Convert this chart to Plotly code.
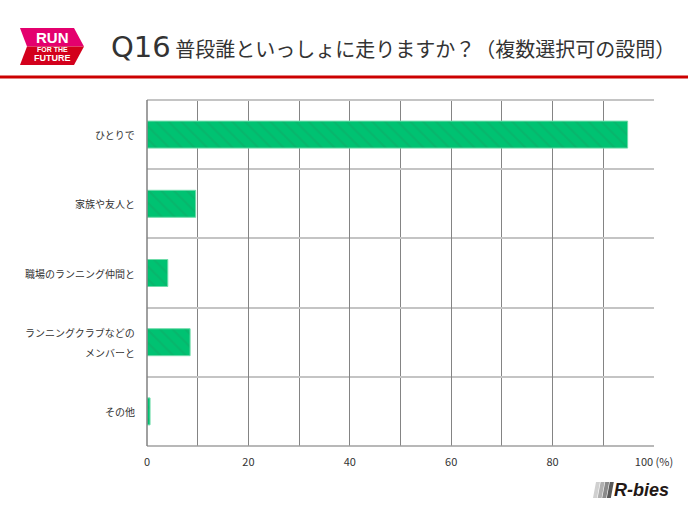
import plotly.graph_objects as go

categories = ["ひとりで", "家族や友人と", "職場のランニング仲間と", "ランニングクラブなどの<br>メンバーと", "その他"]
values = [94.8, 9.6, 4.1, 8.5, 0.6]
x_tick_vals = [0, 20, 40, 60, 80, 100]
x_tick_text = ["0", "20", "40", "60", "80", "100 (%)"]
title_q = "Q16"
title_text = "普段誰といっしょに走りますか？（複数選択可の設問）"

W, H = 688, 516
PL, PR, PT, PB = 147, 654, 100, 446


def fx(px):
    return (px - PL) / (PR - PL)


def fy(py):
    return (PB - py) / (PB - PT)


def path(points):
    s = "M " + " L ".join(f"{fx(x):.5f},{fy(y):.5f}" for x, y in points) + " Z"
    return s


JP = "Noto Sans CJK JP"
ypos = list(range(len(categories)))

fig = go.Figure()
fig.add_trace(go.Bar(
    x=values, y=ypos, orientation="h", width=0.39,
    marker=dict(
        color="#00c272",
        line=dict(color="#6fdcaa", width=1),
        pattern=dict(shape="\\", size=9, solidity=0.25, fgcolor="#0fa865", fgopacity=0.45),
    ),
    hoverinfo="skip",
))

shapes = []
# red rule under header
shapes.append(dict(type="line", xref="paper", yref="paper", x0=fx(0), x1=fx(W), y0=fy(77), y1=fy(77),
                   line=dict(color="#cc0000", width=3)))
# RUN logo chevron
shapes.append(dict(type="path", xref="paper", yref="paper",
                   path=path([(20, 28), (74, 28), (84, 46.5), (27, 46.5)]),
                   fillcolor="#e4006e", line=dict(width=0)))
shapes.append(dict(type="path", xref="paper", yref="paper",
                   path=path([(27, 46.5), (84, 46.5), (74, 65), (20, 65)]),
                   fillcolor="#d3001c", line=dict(width=0)))
# plot borders
shapes.append(dict(type="line", xref="paper", yref="paper", x0=0, x1=1, y0=1, y1=1,
                   line=dict(color="#c4c4c4", width=2), layer="above"))
shapes.append(dict(type="line", xref="paper", yref="paper", x0=0, x1=1, y0=0, y1=0,
                   line=dict(color="#a0a0a0", width=1.5), layer="above"))
shapes.append(dict(type="line", xref="paper", yref="paper", x0=0, x1=0, y0=0, y1=1,
                   line=dict(color="#808080", width=1.5), layer="above"))
# R-bies logo stripes
stripe_cols = ["#d0d0d0", "#b0b0b0", "#8a8a8a", "#5a5a5a"]
for i, c in enumerate(stripe_cols):
    x0 = 593 + i * 4.6
    shapes.append(dict(type="path", xref="paper", yref="paper",
                       path=path([(x0 + 3, 482), (x0 + 7, 482), (x0 + 4, 498), (x0, 498)]),
                       fillcolor=c, line=dict(width=0)))

LOGO_FONT = "Liberation Sans Narrow, Liberation Sans"
annotations = [
    dict(xref="paper", yref="paper", x=fx(109), y=fy(47), xanchor="left", yanchor="middle",
         text=f"<span style='font-family:DejaVu Sans;font-size:29px'>{title_q}</span> {title_text}",
         showarrow=False, font=dict(family=JP, size=20, color="#333333")),
    dict(xref="paper", yref="paper", x=fx(52), y=fy(37.5), xanchor="center", yanchor="middle",
         text="<b>RUN</b>", showarrow=False, font=dict(family=LOGO_FONT, size=15, color="white")),
    dict(xref="paper", yref="paper", x=fx(52), y=fy(49), xanchor="center", yanchor="middle",
         text="<b>FOR THE</b>", showarrow=False, font=dict(family=LOGO_FONT, size=7, color="white")),
    dict(xref="paper", yref="paper", x=fx(52), y=fy(57.5), xanchor="center", yanchor="middle",
         text="<b>FUTURE</b>", showarrow=False, font=dict(family=LOGO_FONT, size=9, color="white")),
    dict(xref="paper", yref="paper", x=fx(612), y=fy(490), xanchor="left", yanchor="middle",
         text="<b><i>R-bies</i></b>", showarrow=False,
         font=dict(family="Liberation Sans", size=18, color="#231815")),
]

# category labels (right-aligned, multi-line labels with wide line spacing)
for yi, label in zip(ypos, categories):
    lines = label.split("<br>")
    n = len(lines)
    for k, line in enumerate(lines):
        annotations.append(dict(
            xref="paper", yref="y", x=fx(137), y=yi, xanchor="right", yanchor="middle",
            yshift=(n - 1) * 10 - k * 20, text=line, showarrow=False,
            font=dict(family=JP, size=10, color="#333333")))

fig.update_layout(
    width=W, height=H,
    margin=dict(l=PL, r=W - PR, t=PT, b=H - PB),
    paper_bgcolor="white", plot_bgcolor="white",
    showlegend=False,
    shapes=shapes, annotations=annotations,
    font=dict(family=JP, color="#333333"),
    xaxis=dict(
        range=[0, 100], tickvals=x_tick_vals, ticktext=x_tick_text,
        showgrid=True, gridcolor="#848484", gridwidth=1,
        minor=dict(dtick=10, tick0=0, showgrid=True, gridcolor="#848484", gridwidth=1),
        zeroline=False, showline=False, ticks="", ticklabelstandoff=8,
        tickfont=dict(family=JP, size=11, color="#333333"),
        fixedrange=True,
    ),
    yaxis=dict(
        range=[4.5, -0.5], tickmode="array", tickvals=ypos, showticklabels=False,
        showgrid=False, zeroline=False, showline=False, ticks="",
        minor=dict(tickmode="linear", tick0=0.5, dtick=1, showgrid=True, gridcolor="#c4c4c4", gridwidth=2),
        fixedrange=True,
    ),
)

fig.write_html("out.html", config={"displayModeBar": False})
